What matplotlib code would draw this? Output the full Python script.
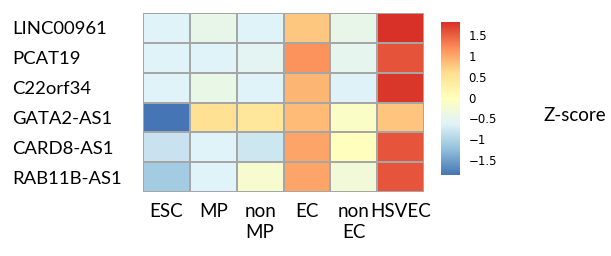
import numpy as np
import matplotlib.pyplot as plt
from matplotlib.colors import LinearSegmentedColormap

genes = ['LINC00961', 'PCAT19', 'C22orf34', 'GATA2-AS1', 'CARD8-AS1', 'RAB11B-AS1']
cells = ['ESC', 'MP', 'non\nMP', 'EC', 'non\nEC', 'HSVEC']

linc00961 = [-0.63, -0.48, -0.63, 0.77, -0.48, 1.78]
pcat19 = [-0.63, -0.63, -0.58, 1.15, -0.52, 1.56]
c22orf34 = [-0.63, -0.45, -0.63, 0.90, -0.65, 1.75]
gata2_as1 = [-1.85, 0.55, 0.45, 0.85, -0.10, 0.78]
card8_as1 = [-0.82, -0.63, -0.78, 1.01, 0.00, 1.55]
rab11b_as1 = [-1.10, -0.63, -0.20, 1.01, -0.30, 1.55]

z = np.array([linc00961, pcat19, c22orf34, gata2_as1, card8_as1, rab11b_as1])

# pheatmap default palette: rev(brewer.pal(7, "RdYlBu"))
cmap = LinearSegmentedColormap.from_list(
    'rdylbu', ['#4575B4', '#91BFDB', '#E0F3F8', '#FFFFBF', '#FEE090', '#FC8D59', '#D73027'])

fig = plt.figure(figsize=(6.11, 2.56), dpi=100)
ax = fig.add_axes([0.234, 0.25, 0.46, 0.699])
mesh = ax.pcolormesh(z, cmap=cmap, vmin=-1.85, vmax=1.8,
                     edgecolor='#a6a6a6', linewidth=1.2)
ax.set_xlim(0, len(cells))
ax.set_ylim(len(genes), 0)
for s in ax.spines.values():
    s.set_visible(False)

ax.set_yticks(np.arange(len(genes)) + 0.5)
ax.set_yticklabels(genes, fontsize=13.3, family='Lato', ha='left')
ax.tick_params(axis='y', length=0, pad=94)

ax.set_xticks(np.arange(len(cells)) + 0.5)
ax.set_xticklabels(cells, fontsize=13.5, family='Lato', va='top', linespacing=1.3)
ax.tick_params(axis='x', length=0, pad=8)

cax = fig.add_axes([0.722, 0.316, 0.031, 0.598])
cb = fig.colorbar(mesh, cax=cax)
cb.outline.set_visible(False)
cb.set_ticks([-1.5, -1, -0.5, 0, 0.5, 1, 1.5])
cb.set_ticklabels(['\u22121.5', '\u22121', '\u22120.5', '0', '0.5', '1', '1.5'])
cax.tick_params(length=0, labelsize=8.5, pad=6)

fig.text(0.89, 0.55, 'Z-score', fontsize=13.5, family='Lato', ha='left', va='center')

plt.savefig('out.png', dpi=100)
